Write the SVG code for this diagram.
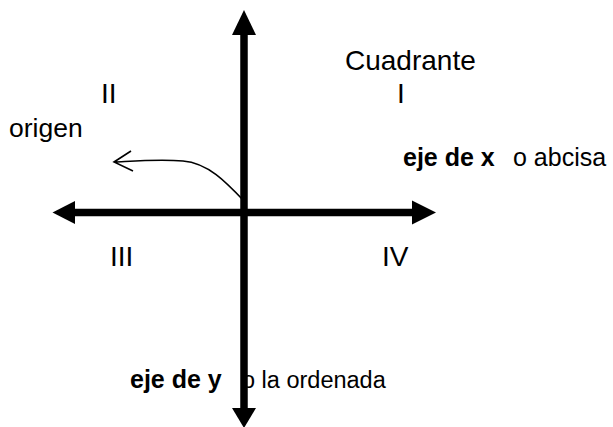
<svg xmlns="http://www.w3.org/2000/svg" width="613" height="427" viewBox="0 0 613 427">
<style>
text{font-family:"Liberation Sans",Arial,sans-serif;fill:#000;font-size:25px}
.b{font-weight:bold}
.q{font-size:28px}
.axis{stroke:#000;stroke-width:7.5;fill:none}
.head{fill:#000;stroke:none}
.thin{stroke:#000;stroke-width:1.6;fill:none}
</style>
<rect width="613" height="427" fill="#fff"/>
<g id="labels">
<text id="cuadrante" x="345" y="70" style="font-size:28px">Cuadrante</text>
<text id="q1" class="q" x="397" y="103">I</text>
<text id="q2" class="q" x="101" y="103">II</text>
<text id="q3" class="q" x="110" y="266">III</text>
<text id="q4" class="q" x="382" y="266">IV</text>
<text id="origen" x="9" y="137" style="font-size:26.5px">origen</text>
<text id="ejex" class="b" x="403" y="166">eje de x</text>
<text id="abcisa" x="513" y="166">o abcisa</text>
<text id="ejey" class="b" x="130" y="388">eje de y</text>
<text id="ordenada" x="242" y="388" style="font-size:23.5px">o la ordenada</text>
</g>
<g id="connectors">
<path id="origen-arrow" class="thin" d="M244,201 C226,182 208,163 183,161 C160,159 135,161 114,162 M131,151 L114,162 L133,171"/>
<g id="x-axis">
<line class="axis" x1="72" y1="212.5" x2="415" y2="212.5"/>
<polygon class="head" points="52.5,212.5 75,201 75,224"/>
<polygon class="head" points="436,212.5 412,200.5 412,224.5"/>
</g>
<g id="y-axis">
<line class="axis" x1="244" y1="32" x2="244" y2="410"/>
<polygon class="head" points="244,10 232,35 256,35"/>
<polygon class="head" points="244,428 232,408 256,408"/>
</g>
</g>
</svg>
